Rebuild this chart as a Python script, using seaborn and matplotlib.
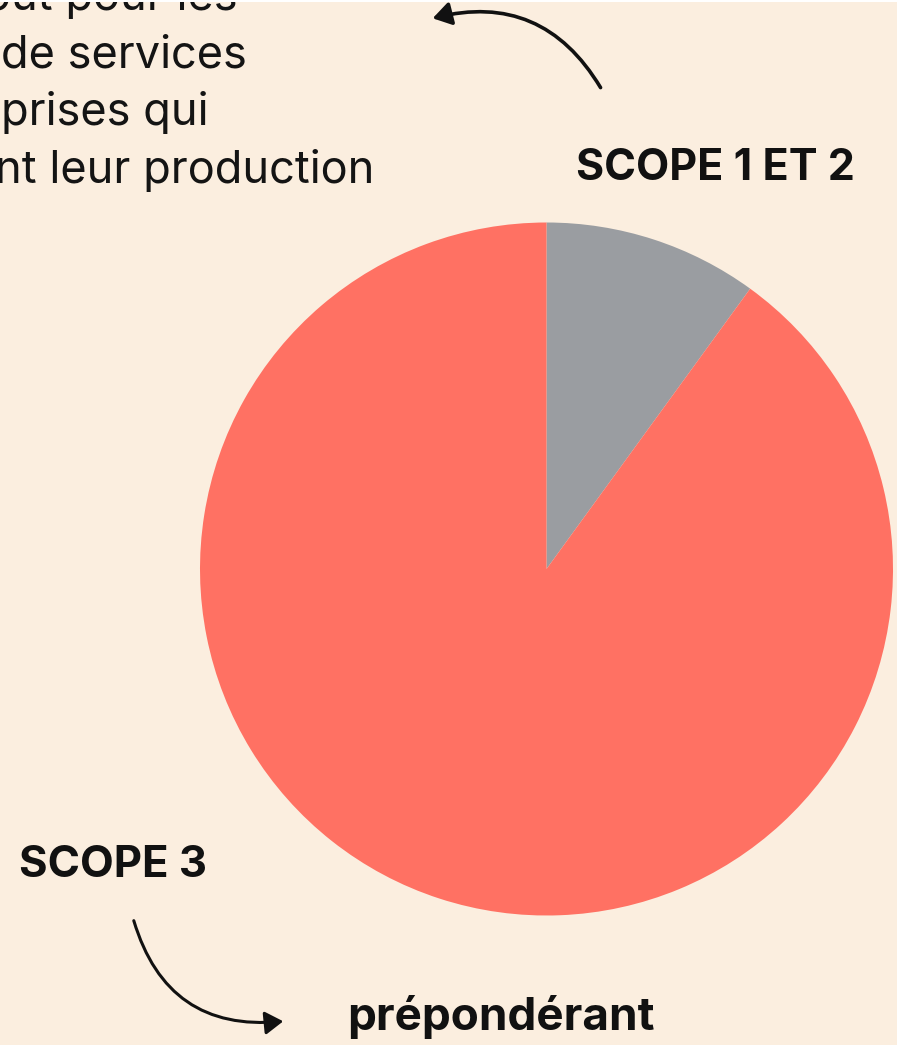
import matplotlib
matplotlib.use("Agg")
import matplotlib.pyplot as plt
from matplotlib.patches import FancyArrowPatch, Rectangle
import seaborn as sns

# Data
categories = ["SCOPE 1 ET 2", "SCOPE 3"]
values = [10, 90]
colors = ["#9A9DA1", "#FF7163"]
intro_lines = ["out pour les", "de services", "prises qui", "nt leur production"]

sns.set_theme(style="white")
plt.rcParams["font.family"] = ["Inter", "DejaVu Sans"]

BG = "#FBEEDF"
W, H = 897, 1045
fig = plt.figure(figsize=(W / 100, H / 100), dpi=100, facecolor=BG)

# pie axes: centre (546.5, 569) px from top-left, radius 346 px
cx, cy, r = 546.5, 569, 346.5
ax = fig.add_axes([(cx - r) / W, (H - cy - r) / H, 2 * r / W, 2 * r / H])
ax.set_facecolor("none")
ax.pie(values, colors=colors, startangle=90, counterclock=False, radius=1,
       wedgeprops=dict(linewidth=0))
ax.set_xlim(-1, 1)
ax.set_ylim(-1, 1)
ax.set_aspect("equal")
ax.axis("off")

def fx(x):
    return x / W

def fy(y):
    return 1 - y / H

# thin white strip at very top
fig.patches.append(Rectangle((0, fy(2)), 1, 2 / H, transform=fig.transFigure,
                             facecolor="white", edgecolor="none", zorder=5))

# intro text (right ends as in reference)
ends = [238, 247, 208, 374]
bases = [10, 67, 125, 183]
for line, xe, yb in zip(intro_lines, ends, bases):
    fig.text(fx(xe), fy(yb), line, ha="right", va="baseline", fontsize=32.5,
             color="#141414")

fig.text(fx(855), fy(180), categories[0], ha="right", va="baseline",
         fontsize=31, fontweight="bold", color="#111111")
fig.text(fx(19), fy(877), categories[1], ha="left", va="baseline",
         fontsize=31.5, fontweight="bold", color="#111111")
fig.text(fx(347), fy(1030), "prépondérant", ha="left", va="baseline",
         fontsize=33, fontweight="bold", color="#111111")

a1 = FancyArrowPatch((fx(602), fy(90)), (fx(430), fy(19)),
                     transform=fig.transFigure,
                     connectionstyle="arc3,rad=0.38",
                     arrowstyle="-|>,head_length=11,head_width=7",
                     color="#111111", lw=2.6)
fig.patches.append(a1)
a2 = FancyArrowPatch((fx(133), fy(918)), (fx(286), fy(1021)),
                     transform=fig.transFigure,
                     connectionstyle="arc3,rad=0.42",
                     arrowstyle="-|>,head_length=11,head_width=7",
                     color="#111111", lw=2.2)
fig.patches.append(a2)

fig.savefig("out.png", dpi=100, facecolor=BG)
